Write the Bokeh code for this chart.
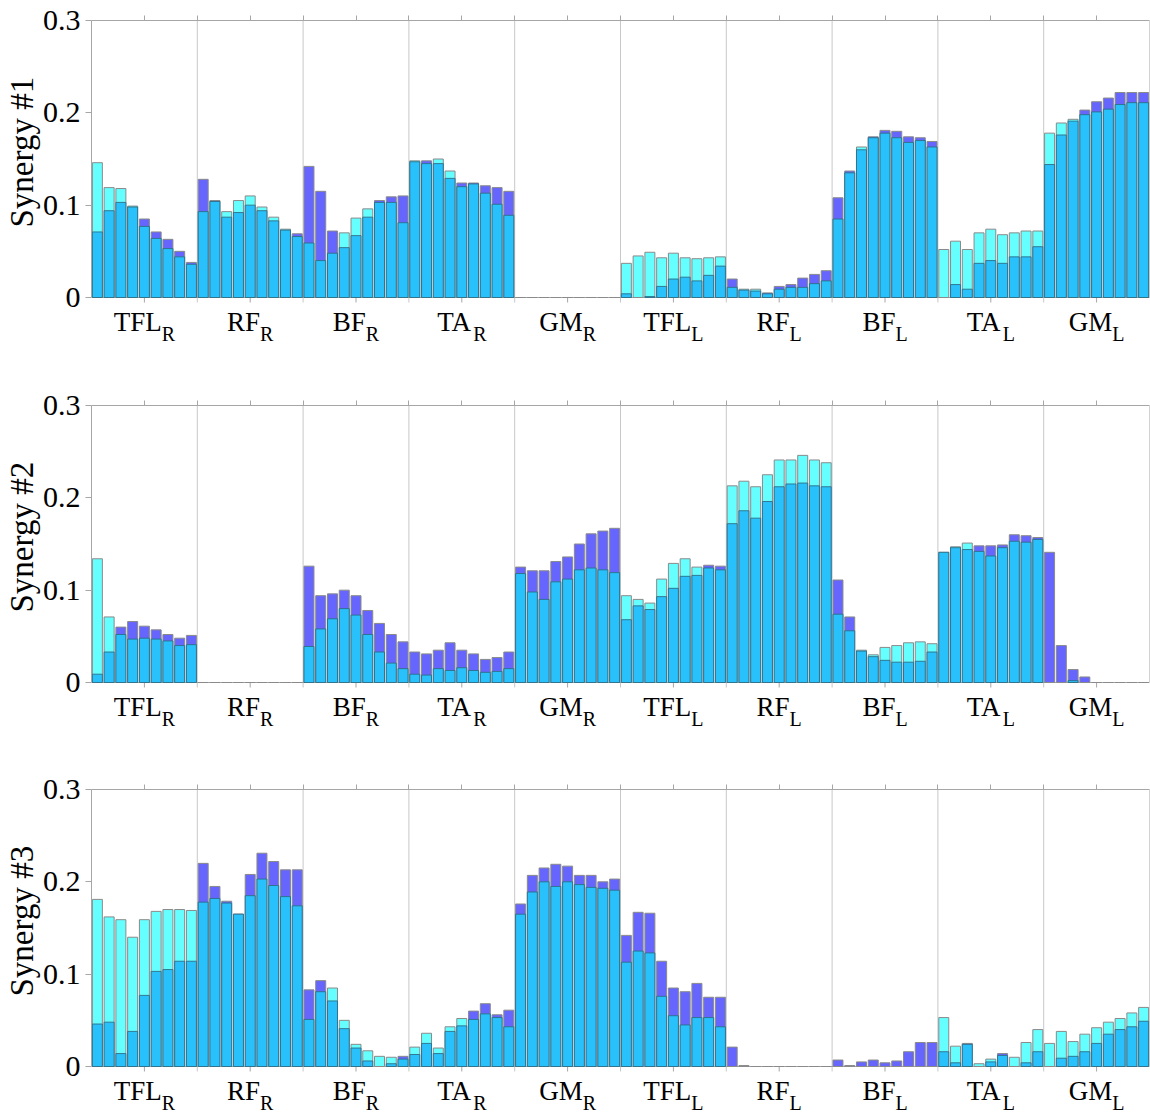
from bokeh.plotting import figure
from bokeh.models import ColumnDataSource, FixedTicker, NumeralTickFormatter, Range1d, CustomJSTickFormatter, Title
from bokeh.core.properties import value
from bokeh.layouts import column
from bokeh.embed import file_html
from bokeh.resources import INLINE

# ---------------- data ----------------
muscles = ["TFL", "RF", "BF", "TA", "GM"]
sides = ["R", "L"]
groups = [(m, s) for s in sides for m in muscles]  # 10 groups x 9 bars

# Synergy 1
syn1_base = [0.071, 0.094, 0.103, 0.098, 0.077, 0.064, 0.053, 0.044, 0.036,
             0.093, 0.104, 0.087, 0.092, 0.100, 0.094, 0.083, 0.073, 0.066,
             0.059, 0.040, 0.048, 0.054, 0.067, 0.087, 0.103, 0.103, 0.081,
             0.147, 0.145, 0.145, 0.129, 0.120, 0.123, 0.113, 0.101, 0.089,
             0, 0, 0, 0, 0, 0, 0, 0, 0,
             0.004, 0.000, 0.001, 0.012, 0.020, 0.022, 0.018, 0.024, 0.034,
             0.011, 0.008, 0.007, 0.004, 0.009, 0.011, 0.011, 0.015, 0.018,
             0.085, 0.135, 0.160, 0.173, 0.178, 0.173, 0.168, 0.170, 0.163,
             0.000, 0.014, 0.009, 0.037, 0.040, 0.037, 0.044, 0.044, 0.055,
             0.144, 0.176, 0.191, 0.198, 0.201, 0.204, 0.209, 0.211, 0.211]
syn1_peak = [0.146, 0.119, 0.118, 0.099, 0.085, 0.071, 0.063, 0.050, 0.038,
             0.128, 0.105, 0.093, 0.105, 0.110, 0.098, 0.087, 0.074, 0.069,
             0.142, 0.115, 0.072, 0.070, 0.086, 0.096, 0.105, 0.109, 0.110,
             0.148, 0.148, 0.150, 0.137, 0.124, 0.124, 0.121, 0.119, 0.115,
             0, 0, 0, 0, 0, 0, 0, 0, 0,
             0.037, 0.045, 0.049, 0.043, 0.048, 0.043, 0.042, 0.043, 0.044,
             0.020, 0.009, 0.009, 0.005, 0.012, 0.014, 0.021, 0.025, 0.029,
             0.108, 0.137, 0.163, 0.174, 0.181, 0.180, 0.174, 0.173, 0.169,
             0.052, 0.061, 0.052, 0.070, 0.074, 0.068, 0.070, 0.072, 0.072,
             0.178, 0.189, 0.193, 0.203, 0.212, 0.216, 0.222, 0.222, 0.222]
syn1_kind = ("ccccppppp" "ppccccccp" "pppcccppp" "cpccppppp" "ppppppppp"
             "ccccccccc" "pccpppppp" "ppcpppppp" "ccccccccc" "cccpppppp")

# Synergy 2
syn2_base = [0.009, 0.033, 0.052, 0.047, 0.048, 0.047, 0.045, 0.040, 0.041,
             0, 0, 0, 0, 0, 0, 0, 0, 0,
             0.039, 0.058, 0.069, 0.080, 0.073, 0.052, 0.033, 0.021, 0.015,
             0.009, 0.008, 0.015, 0.013, 0.016, 0.013, 0.011, 0.012, 0.015,
             0.118, 0.098, 0.090, 0.109, 0.112, 0.122, 0.124, 0.122, 0.119,
             0.068, 0.083, 0.079, 0.093, 0.102, 0.115, 0.116, 0.124, 0.122,
             0.172, 0.186, 0.178, 0.196, 0.212, 0.215, 0.216, 0.213, 0.212,
             0.074, 0.056, 0.034, 0.028, 0.024, 0.022, 0.022, 0.023, 0.033,
             0.141, 0.146, 0.144, 0.142, 0.137, 0.146, 0.153, 0.152, 0.155,
             0, 0, 0.002, 0, 0, 0, 0, 0, 0]
syn2_peak = [0.134, 0.071, 0.060, 0.066, 0.061, 0.057, 0.052, 0.048, 0.051,
             0, 0, 0, 0, 0, 0, 0, 0, 0,
             0.126, 0.094, 0.096, 0.100, 0.094, 0.078, 0.064, 0.052, 0.044,
             0.033, 0.031, 0.035, 0.043, 0.035, 0.031, 0.025, 0.027, 0.033,
             0.125, 0.121, 0.121, 0.131, 0.136, 0.150, 0.161, 0.164, 0.167,
             0.094, 0.090, 0.086, 0.112, 0.129, 0.134, 0.125, 0.127, 0.126,
             0.213, 0.218, 0.212, 0.225, 0.241, 0.241, 0.246, 0.241, 0.238,
             0.111, 0.071, 0.035, 0.030, 0.038, 0.040, 0.043, 0.044, 0.042,
             0.141, 0.147, 0.151, 0.148, 0.148, 0.149, 0.160, 0.159, 0.157,
             0.141, 0.040, 0.014, 0.006, 0, 0, 0, 0, 0]
syn2_kind = ("ccppppppp" "ppppppppp" "ppppppppp" "ppppppppp" "ppppppppp"
             "cccccccpp" "ccccccccc" "ppccccccc" "cccpppppp" "ppppppppp")

# Synergy 3
syn3_base = [0.046, 0.048, 0.014, 0.038, 0.077, 0.103, 0.105, 0.114, 0.114,
             0.178, 0.182, 0.177, 0.165, 0.185, 0.203, 0.196, 0.184, 0.174,
             0.051, 0.081, 0.071, 0.041, 0.020, 0.006, 0.000, 0.003, 0.008,
             0.013, 0.025, 0.014, 0.038, 0.044, 0.051, 0.057, 0.053, 0.043,
             0.165, 0.189, 0.200, 0.195, 0.200, 0.197, 0.194, 0.193, 0.191,
             0.113, 0.125, 0.123, 0.076, 0.055, 0.045, 0.053, 0.053, 0.043,
             0, 0, 0, 0, 0, 0, 0, 0, 0,
             0, 0, 0, 0, 0, 0, 0, 0, 0,
             0.016, 0.004, 0.024, 0.000, 0.005, 0.012, 0.000, 0.004, 0.016,
             0.000, 0.009, 0.011, 0.016, 0.025, 0.035, 0.040, 0.043, 0.049]
syn3_peak = [0.181, 0.162, 0.159, 0.140, 0.159, 0.168, 0.170, 0.170, 0.169,
             0.220, 0.195, 0.179, 0.165, 0.208, 0.231, 0.222, 0.213, 0.213,
             0.083, 0.093, 0.085, 0.050, 0.024, 0.017, 0.011, 0.010, 0.011,
             0.021, 0.036, 0.020, 0.043, 0.052, 0.060, 0.068, 0.056, 0.061,
             0.176, 0.207, 0.215, 0.219, 0.217, 0.207, 0.207, 0.200, 0.203,
             0.142, 0.167, 0.166, 0.114, 0.085, 0.081, 0.090, 0.075, 0.075,
             0.021, 0.001, 0, 0, 0, 0, 0, 0, 0,
             0.007, 0.001, 0.005, 0.007, 0.004, 0.006, 0.016, 0.026, 0.026,
             0.053, 0.022, 0.025, 0.003, 0.008, 0.014, 0.010, 0.026, 0.040,
             0.025, 0.038, 0.027, 0.035, 0.042, 0.048, 0.052, 0.058, 0.064]
syn3_kind = ("ccccccccc" "ppppppppp" "ppccccccp" "cccccpppp" "ppppppppp"
             "ppppppppp" "ppppppppp" "ppppppppp" "ccpccpccc" "ccccccccc")

y_ticks = [0, 0.1, 0.2, 0.3]
synergies = [("Synergy #1", syn1_base, syn1_peak, syn1_kind),
             ("Synergy #2", syn2_base, syn2_peak, syn2_kind),
             ("Synergy #3", syn3_base, syn3_peak, syn3_kind)]

# ---------------- style ----------------
BLUE = "#29c1fc"
CYAN = "#66ffff"
PURPLE = "#6666ff"
AXIS = "#a6a6a6"
FONT = "Liberation Serif"
MAIN_PX = 27
SUB_PX = 20
TICK_PX = 30
YLAB_PX = 33
EM = {"T": 0.611, "F": 0.556, "L": 0.611, "R": 0.667, "B": 0.667,
      "A": 0.722, "G": 0.722, "M": 0.889}

n_per = 9
n_groups = len(groups)
n_bars = n_per * n_groups
centers = [g * n_per + n_per / 2 for g in range(n_groups)]
bounds = [g * n_per for g in range(1, n_groups)]

data_h = 277            # pixels for 0 .. 0.3
ext_px = 50             # extra frame below zero for the group labels
upp = 0.3 / data_h      # data units per pixel
y_low = -ext_px * upp
layout_spec = [(385, 20, 38), (384, 20, 37), (348, 20, 1)]

figs = []
for (label, base, peak, kind), (h, bt, bb) in zip(synergies, layout_spec):
    xs = [i + 0.5 for i in range(n_bars)]
    peak_colors = [CYAN if k == "c" else PURPLE for k in kind]
    base_line_alpha = [0.9 if b > 0 else 0.0 for b in base]
    src_peak = ColumnDataSource(dict(x=xs, top=peak, color=peak_colors))
    src_base = ColumnDataSource(dict(x=xs, top=base, la=base_line_alpha))

    p = figure(width=1150, height=h, output_backend="svg", toolbar_location=None,
               x_range=Range1d(0, n_bars), y_range=Range1d(y_low, 0.3),
               x_axis_location="above",
               min_border_left=91, min_border_right=1,
               min_border_top=bt, min_border_bottom=bb,
               background_fill_color="white", border_fill_color="white")
    p.outline_line_color = None
    p.xgrid.visible = False
    p.ygrid.visible = False

    # group boundary grid lines (0 .. 0.3, with small tick extensions)
    tick = 5 * upp
    p.segment(x0=bounds, y0=[-tick] * len(bounds), x1=bounds, y1=[0.3] * len(bounds),
              line_color="#c8c8c8", line_width=1)
    # bottom ticks at group centres
    p.segment(x0=centers, y0=[-tick] * len(centers), x1=centers, y1=[0] * len(centers),
              line_color=AXIS, line_width=1)
    # right and bottom frame lines
    p.segment(x0=[n_bars, 0], y0=[0, 0], x1=[n_bars, n_bars], y1=[0.3, 0],
              line_color=AXIS, line_width=1)

    p.vbar(x="x", top="top", bottom=0, width=0.85, source=src_peak,
           fill_color="color", line_color="#8a8a8a", line_width=1)
    p.vbar(x="x", top="top", bottom=0, width=0.85, source=src_base,
           fill_color=BLUE, line_color="#2e6f86", line_width=1, line_alpha="la")

    # top axis: ticks only
    xa = p.xaxis[0]
    xa.ticker = FixedTicker(ticks=centers, minor_ticks=bounds)
    xa.formatter = CustomJSTickFormatter(code="return ''")
    xa.major_label_standoff = 0
    xa.axis_line_color = AXIS
    xa.major_tick_line_color = AXIS
    xa.minor_tick_line_color = AXIS
    xa.major_tick_out = 5
    xa.major_tick_in = 0
    xa.minor_tick_out = 5
    xa.minor_tick_in = 0

    # y axis
    ya = p.yaxis[0]
    ya.bounds = (0, 0.3)
    ya.ticker = FixedTicker(ticks=y_ticks)
    ya.formatter = NumeralTickFormatter(format="0.[0]")
    ya.axis_line_color = AXIS
    ya.major_tick_line_color = AXIS
    ya.minor_tick_line_color = None
    ya.major_tick_out = 6
    ya.major_tick_in = 0
    ya.major_label_text_font = FONT
    ya.major_label_text_font_size = f"{TICK_PX}px"
    ya.major_label_text_color = "black"
    ya.major_label_standoff = 5

    # y label, placed relative to the bottom of the extended frame
    p.add_layout(Title(text=label, align="left", offset=ext_px + 70,
                       text_font=FONT, text_font_size=f"{YLAB_PX}px",
                       text_font_style="normal", text_color="black",
                       standoff=0), "left")

    # group labels with subscripts (text glyphs inside the extended frame)
    mains, subs, offs_m, offs_s = [], [], [], []
    for (m, s) in groups:
        wm = sum(EM[ch] for ch in m) * MAIN_PX
        ws = EM[s] * SUB_PX
        left = -(wm + ws) / 2
        mains.append(m)
        subs.append(s)
        offs_m.append(left)
        offs_s.append(left + wm)
    p.text(x=centers, y=[-24 * upp] * n_groups, text=mains, x_offset=offs_m,
           text_align="left", text_baseline="alphabetic", text_font=value(FONT),
           text_font_size=f"{MAIN_PX}px", text_color="black")
    p.text(x=centers, y=[-36 * upp] * n_groups, text=subs, x_offset=offs_s,
           text_align="left", text_baseline="alphabetic", text_font=value(FONT),
           text_font_size=f"{SUB_PX}px", text_color="black")
    figs.append(p)

layout = column(*figs, spacing=0)
open("out.html", "w").write(file_html(layout, INLINE))
